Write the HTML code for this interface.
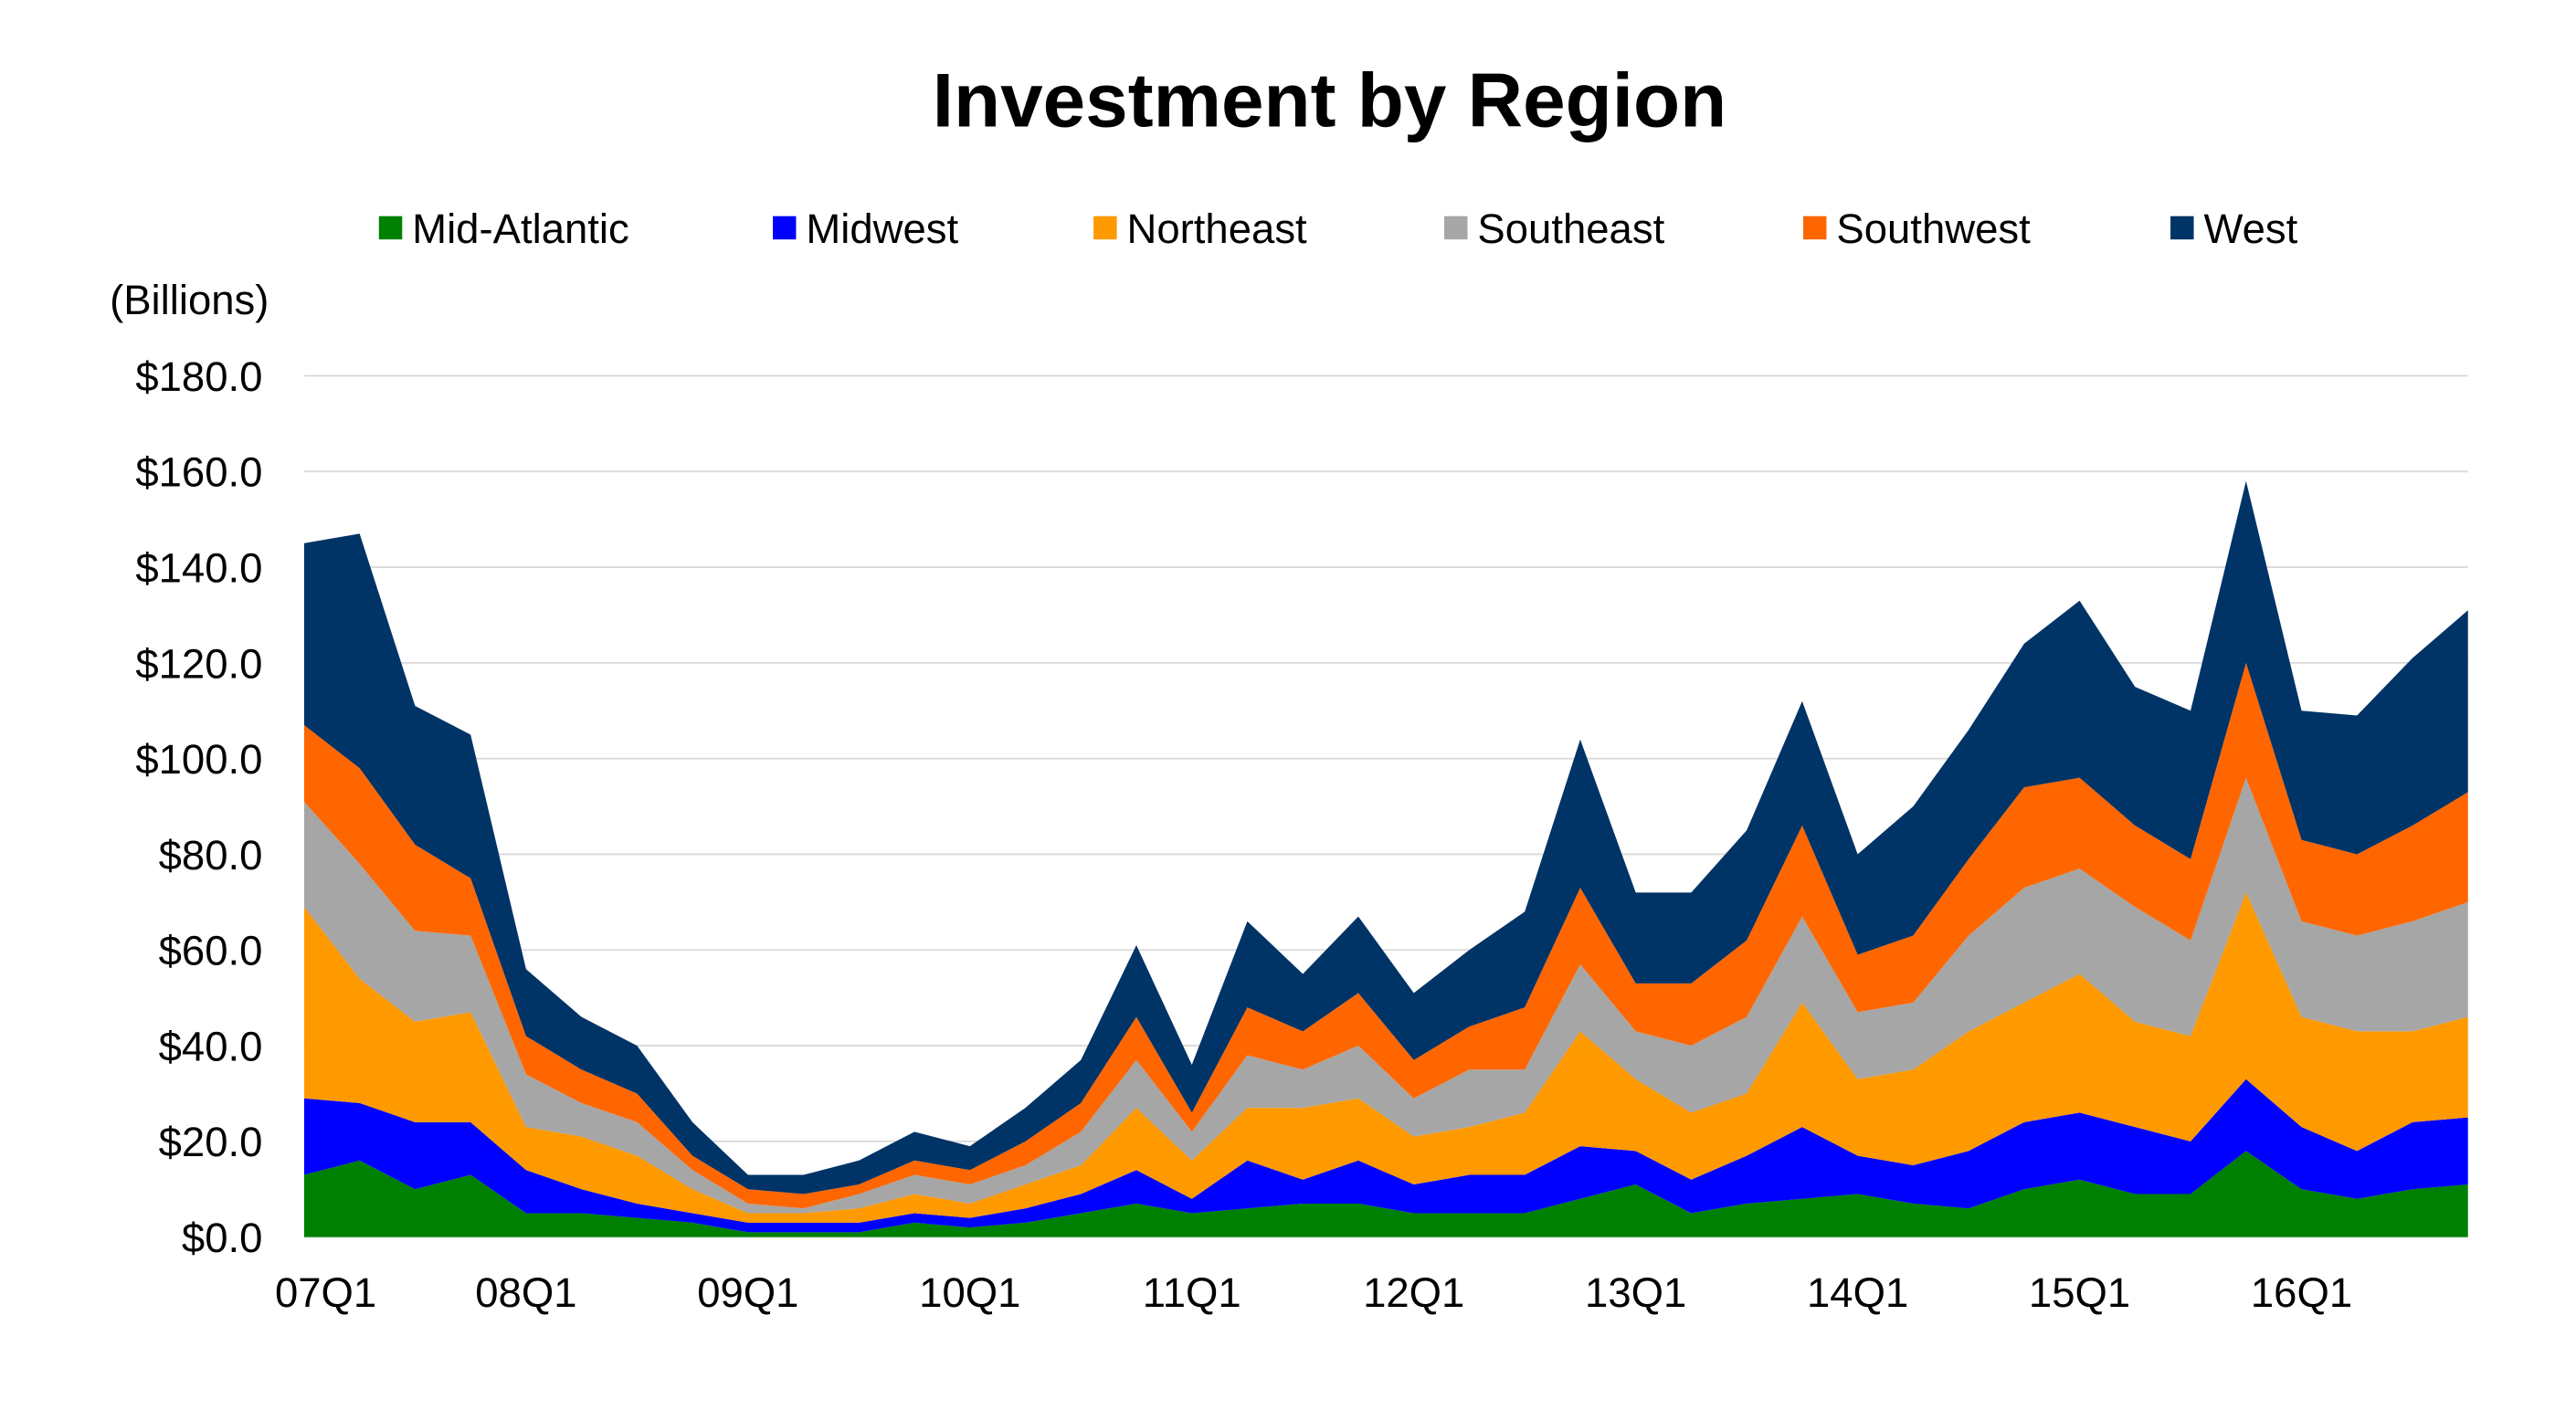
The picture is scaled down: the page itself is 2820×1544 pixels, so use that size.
<!DOCTYPE html>
<html><head><meta charset="utf-8"><style>
html,body{margin:0;padding:0;background:#fff;}
svg{display:block;font-family:"Liberation Sans",Arial,sans-serif;}
</style></head><body>
<svg id="chart" width="2820" height="1544" viewBox="0 0 1550 848" preserveAspectRatio="none" xmlns="http://www.w3.org/2000/svg">
<rect width="1550" height="848" fill="#fff"/>
<text x="800" y="76" text-anchor="middle" font-size="46" font-weight="bold" fill="#000">Investment by Region</text>
<text x="66" y="189" font-size="25" fill="#000">(Billions)</text>
<g id="grid"></g><g id="areas"></g><g id="axes"></g><g id="legend"></g>
</svg>
<script>
const categories=[];for(let y=7;y<=16;y++)for(let q=1;q<=4;q++)categories.push((y<10?'0':'')+y+'Q'+q);
const seriesNames=["Mid-Atlantic","Midwest","Northeast","Southeast","Southwest","West"];
const seriesColors=["#008000","#0000ff","#ff9900","#a6a6a6","#ff6600","#003366"];
const midAtlantic=[13,16,10,13,5,5,4,3,1,1,1,3,2,3,5,7,5,6,7,7,5,5,5,8,11,5,7,8,9,7,6,10,12,9,9,18,10,8,10,11];
const midwest=[16,12,14,11,9,5,3,2,2,2,2,2,2,3,4,7,3,10,5,9,6,8,8,11,7,7,10,15,8,8,12,14,14,14,11,15,13,10,14,14];
const northeast=[40,26,21,23,9,11,10,5,2,2,3,4,3,5,6,13,8,11,15,13,10,10,13,24,15,14,13,26,16,20,25,25,29,22,22,39,23,25,19,21];
const southeast=[22,24,19,16,11,7,7,4,2,1,3,4,4,4,7,10,6,11,8,11,8,12,9,14,10,14,16,18,14,14,20,24,22,24,20,24,20,20,23,24];
const southwest=[16,20,18,12,8,7,6,3,3,3,2,3,3,5,6,9,4,10,8,11,8,9,13,16,10,13,16,19,12,14,16,21,19,17,17,24,17,17,20,23];
const west=[38,49,29,30,14,11,10,7,3,4,5,6,5,7,9,15,10,18,12,16,14,16,20,31,19,19,23,26,21,27,27,30,37,29,31,38,27,29,35,38];
const yTicks=[0,20,40,60,80,100,120,140,160,180];
const xLabelIdx=[0,4,8,12,16,20,24,28,32,36];
const series=[midAtlantic,midwest,northeast,southeast,southwest,west];
const NS="http://www.w3.org/2000/svg";
const X0=183,X1=1485,Y0=744,Y1=226,YMAX=180;
const xs=i=>X0+(X1-X0)*i/(categories.length-1);
const ys=v=>Y0-(Y0-Y1)*v/YMAX;
function mk(t,a,p){const e=document.createElementNS(NS,t);for(const k in a)e.setAttribute(k,a[k]);p.appendChild(e);return e;}
const grid=document.getElementById('grid'),axes=document.getElementById('axes'),areas=document.getElementById('areas'),legend=document.getElementById('legend');
yTicks.forEach(v=>{
  const l=mk('line',{x1:X0,x2:X1,y1:ys(v),y2:ys(v),stroke:'#d9d9d9','stroke-width':1},grid);
  
  
  const t=mk('text',{x:158,y:ys(v)+9,'text-anchor':'end','font-size':25,fill:'#000'},axes);
  
  
  t.textContent='$'+v.toFixed(1);
});
xLabelIdx.forEach(i=>{
  const t=mk('text',{x:i===0?xs(i)+13:xs(i),y:786,'text-anchor':'middle','font-size':25,fill:'#000'},axes);
  
  
  t.textContent=categories[i];
});
let base=categories.map(()=>0);
series.forEach((s,k)=>{
  const top=base.map((b,i)=>b+s[i]);
  let d='M'+top.map((v,i)=>xs(i)+','+ys(v)).join('L');
  for(let i=base.length-1;i>=0;i--)d+='L'+xs(i)+','+ys(base[i]);
  d+='Z';
  const p=mk('path',{d:d,fill:seriesColors[k]},areas);
  
  
  base=top;
});
const lx=[228,465,658,869,1085,1306];
seriesNames.forEach((n,k)=>{
  const g=mk('g',{},legend);
  
  
  mk('rect',{x:lx[k],y:130,width:14,height:14,fill:seriesColors[k]},g);
  const t=mk('text',{x:lx[k]+20,y:146,'font-size':25,fill:'#000'},g);
  t.textContent=n;
});
</script>
</body></html>
